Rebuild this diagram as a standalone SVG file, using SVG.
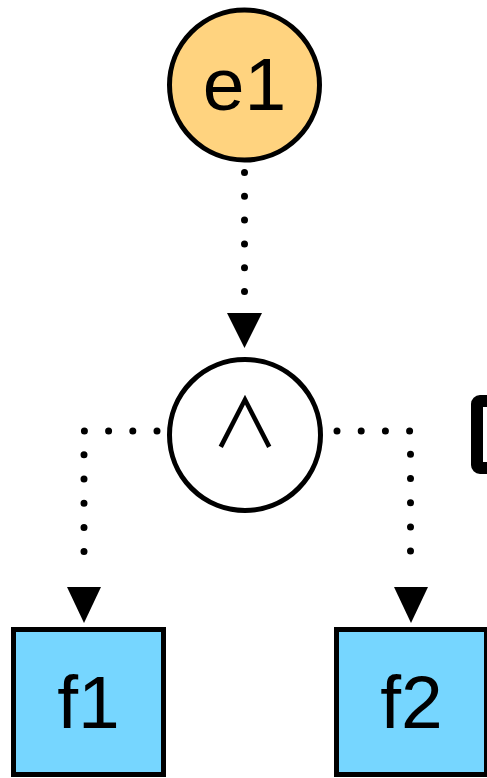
<svg xmlns="http://www.w3.org/2000/svg" width="487" height="778" viewBox="0 0 487 778">
<style>
.node{stroke:#000;stroke-width:5}
.lbl{font-family:"Liberation Sans",Arial,sans-serif;font-size:75px;fill:#000;text-anchor:middle}
.dot{fill:none;stroke:#000;stroke-width:7;stroke-linecap:round}
.head{fill:#000}
</style>
<rect width="487" height="778" fill="#fff"/>
<g id="connectors">
<path class="dot" d="M244.5 172.5 L244.5 300" stroke-dasharray="0 23.8"/>
<polygon class="head" points="227,313 262,313 244.5,348"/>
<path class="dot" d="M157 431 L84 431 L84 575" stroke-dasharray="0 24.2"/>
<polygon class="head" points="67,587 101,587 84,623"/>
<path class="dot" d="M337 431 L410.5 431 L410.5 575" stroke-dasharray="0 24.2"/>
<polygon class="head" points="394,587 428,587 411,623"/>
</g>
<g id="e1">
<circle class="node" cx="244.5" cy="85" r="75" fill="#FFD37F"/>
<text class="lbl" x="244.5" y="110">e1</text>
</g>
<g id="and">
<circle class="node" cx="245" cy="435" r="75.5" fill="#fff"/>
<text x="245" y="448" font-family="Noto Sans CJK SC,sans-serif" font-size="68" text-anchor="middle">∧</text>
</g>
<g id="f1">
<rect class="node" x="13.5" y="629.5" width="150" height="145" fill="#76D6FF"/>
<text class="lbl" x="88.5" y="728">f1</text>
</g>
<g id="f2">
<rect class="node" x="336.5" y="629.5" width="150" height="145" fill="#76D6FF"/>
<text class="lbl" x="411.5" y="728">f2</text>
</g>
<g id="partial">
<rect x="477" y="401" width="40" height="67" rx="3" fill="#fff" stroke="#000" stroke-width="12"/>
</g>
</svg>
